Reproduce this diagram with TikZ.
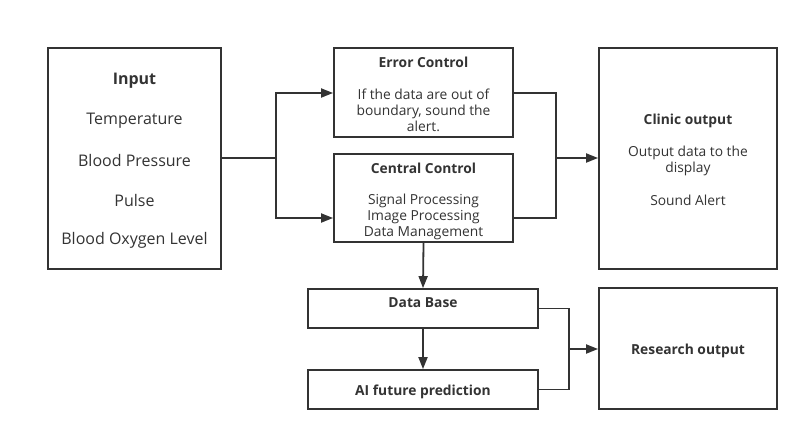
\documentclass[tikz,border=0pt]{standalone}
\usepackage{fontspec}
\setmainfont{Open Sans}
\usetikzlibrary{arrows.meta}
\definecolor{ln}{HTML}{333333}
\begin{document}
\begin{tikzpicture}[x=1pt,y=-1pt,
  box/.style={draw=ln,line width=1.8pt,inner sep=0pt},
  big/.style={font=\fontsize{16}{19}\selectfont,text=ln,inner sep=0pt,yshift=-1.5pt},
  sm/.style={font=\fontsize{13.8}{16}\selectfont,text=ln,inner sep=0pt,align=center,yshift=-1.5pt},
  ttl/.style={font=\fontsize{13.8}{16}\selectfont\bfseries,text=ln,inner sep=0pt,yshift=-1.5pt},
  con/.style={draw=ln,line width=1.8pt},
  arr/.style={con,-{Triangle[length=12pt,width=9pt]}}]
\useasboundingbox (0,0) rectangle (809,442);
\fill[white] (0,0) rectangle (809,442);
% boxes
\node[box,minimum width=173pt,minimum height=221pt] (in) at (134.5,158.5) {};
\node[box,minimum width=179pt,minimum height=89pt] (err) at (423.5,92.5) {};
\node[box,minimum width=179pt,minimum height=88pt] (cc) at (423.5,198) {};
\node[box,minimum width=178pt,minimum height=221pt] (clin) at (688,158.5) {};
\node[box,minimum width=230pt,minimum height=39pt] (db) at (423,308.5) {};
\node[box,minimum width=230pt,minimum height=39pt] (ai) at (423,389.5) {};
\node[box,minimum width=178pt,minimum height=121pt] (res) at (688,348.5) {};
% texts
\node[ttl,font=\fontsize{16}{19}\selectfont\bfseries] (tin) at (134.5,79) {Input};
\node[big] (t1) at (134.5,119) {Temperature};
\node[big] (t2) at (134.5,159) {Blood Pressure};
\node[big] (t3) at (134.5,199) {Pulse};
\node[big] (t4) at (134.5,239) {Blood Oxygen Level};
\node[ttl] (terr) at (423.5,61) {Error Control};
\node[sm] (terr2) at (423.5,109) {If the data are out of\\boundary, sound the\\alert.};
\node[ttl] (tcc) at (423.5,167) {Central Control};
\node[sm] (tcc2) at (423.5,215) {Signal Processing\\Image Processing\\Data Management};
\node[ttl] (tclin) at (688,119) {Clinic output};
\node[sm] (tclin2) at (688,159) {Output data to the\\display};
\node[sm] (tclin3) at (688,199) {Sound Alert};
\node[ttl] (tdb) at (423,301) {Data Base};
\node[ttl] (tai) at (423,390) {AI future prediction};
\node[ttl] (tres) at (688,349) {Research output};
% connectors
\coordinate (j1) at (276,158);
\coordinate (j2) at (556,158);
\coordinate (j3) at (569,349);
\draw[con] (in.east |- j1) -- (j1);
\draw[arr] (j1) |- (err.west |- 0,93);
\draw[arr] (j1) |- (cc.west |- 0,218);
\draw[con] (err.east |- 0,93) -| (j2);
\draw[con] (cc.east |- 0,218) -| (j2);
\draw[arr] (j2) -- (clin.west |- j2);
\draw[arr] (cc.south) -- (db.north);
\draw[arr] (db.south) -- (ai.north);
\draw[con] (db.east) -| (j3);
\draw[con] (ai.east) -| (j3);
\draw[arr] (j3) -- (res.west |- j3);
\end{tikzpicture}
\end{document}
